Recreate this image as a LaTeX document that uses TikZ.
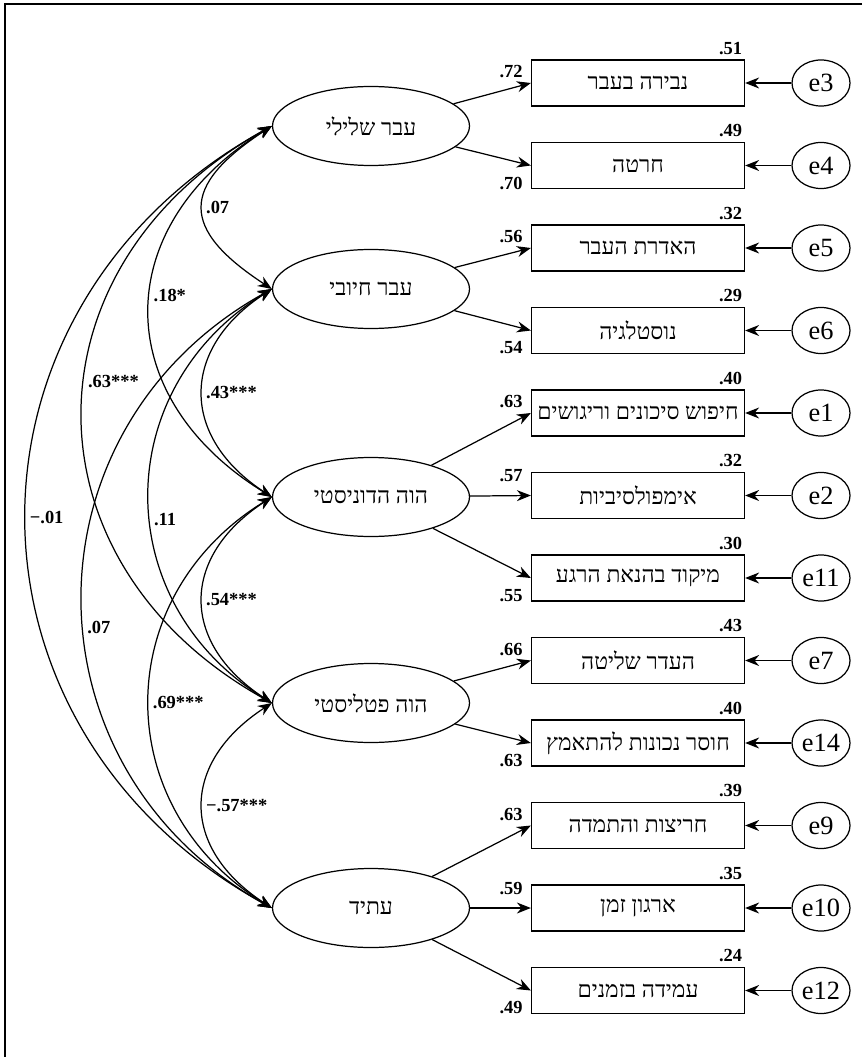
\documentclass[tikz,border=0pt]{standalone}
\usepackage{fontspec}
\setmainfont{Liberation Serif}
\newfontfamily\hebfont[Script=Hebrew]{Liberation Serif}
\TeXXeTstate=1
\usetikzlibrary{arrows.meta,shapes.geometric}
\newcommand{\heb}[1]{{\hebfont\beginR #1\endR}}
\tikzset{
  latent/.style={ellipse, draw, line width=0.7pt, minimum width=3.94cm, minimum height=1.58cm, inner sep=0pt, font=\fontsize{13}{15}\selectfont},
  ind/.style={rectangle, draw, line width=0.7pt, minimum width=4.26cm, minimum height=0.92cm, inner sep=0pt, font=\fontsize{13}{15}\selectfont},
  err/.style={ellipse, draw, line width=0.7pt, minimum width=1.16cm, minimum height=0.92cm, inner sep=0pt, font=\fontsize{15}{16}\selectfont},
  arr/.style={line width=0.7pt, -{Stealth[length=2.8mm,width=2.2mm]}},
  cov/.style={line width=0.7pt, {Stealth[length=2.8mm,width=2.2mm]}-{Stealth[length=2.8mm,width=2.2mm]}},
  num/.style={font=\bfseries\fontsize{10.5}{12}\selectfont, inner sep=1.5pt},
  ldup/.style={num, anchor=south east, xshift=-1mm, yshift=0.3mm},
  ldmid/.style={num, anchor=south east, xshift=-1mm, yshift=2mm},
  lddn/.style={num, anchor=north east, xshift=-1mm, yshift=-1.6mm},
  rsq/.style={num, anchor=south east, yshift=0.4mm},
  covlbl/.style={num, anchor=west}
}
\begin{document}
\begin{tikzpicture}
  \useasboundingbox (0,0) rectangle (17.24,-21.14);
  \draw[line width=1.2pt] (17.24,-0.08) -- (0.1,-0.08) -- (0.1,-21.14);

  % latent factors
  \node[latent] at (7.42,-2.52) (past-neg) {\heb{עבר שלילי}};
  \node[latent] at (7.42,-5.78) (past-pos) {\heb{עבר חיובי}};
  \node[latent] at (7.42,-9.94) (pres-hed) {\heb{הוה הדוניסטי}};
  \node[latent] at (7.42,-14.06) (pres-fat) {\heb{הוה פטליסטי}};
  \node[latent] at (7.42,-18.16) (future) {\heb{עתיד}};

  % indicators
  \node[ind] at (12.76,-1.66) (i3) {\heb{נבירה בעבר}};
  \node[ind] at (12.76,-3.31) (i4) {\heb{חרטה}};
  \node[ind] at (12.76,-4.96) (i5) {\heb{האדרת העבר}};
  \node[ind] at (12.76,-6.61) (i6) {\heb{נוסטלגיה}};
  \node[ind] at (12.76,-8.26) (i1) {\heb{חיפוש סיכונים וריגושים}};
  \node[ind] at (12.76,-9.91) (i2) {\heb{אימפולסיביות}};
  \node[ind] at (12.76,-11.56) (i11) {\heb{מיקוד בהנאת הרגע}};
  \node[ind] at (12.76,-13.21) (i7) {\heb{העדר שליטה}};
  \node[ind] at (12.76,-14.86) (i14) {\heb{חוסר נכונות להתאמץ}};
  \node[ind] at (12.76,-16.51) (i9) {\heb{חריצות והתמדה}};
  \node[ind] at (12.76,-18.16) (i10) {\heb{ארגון זמן}};
  \node[ind] at (12.76,-19.81) (i12) {\heb{עמידה בזמנים}};

  % error terms
  \node[err] at (16.42,-1.66) (e3) {e3};
  \node[err] at (16.42,-3.31) (e4) {e4};
  \node[err] at (16.42,-4.96) (e5) {e5};
  \node[err] at (16.42,-6.61) (e6) {e6};
  \node[err] at (16.42,-8.26) (e1) {e1};
  \node[err] at (16.42,-9.91) (e2) {e2};
  \node[err] at (16.42,-11.56) (e11) {e11};
  \node[err] at (16.42,-13.21) (e7) {e7};
  \node[err] at (16.42,-14.86) (e14) {e14};
  \node[err] at (16.42,-16.51) (e9) {e9};
  \node[err] at (16.42,-18.16) (e10) {e10};
  \node[err] at (16.42,-19.81) (e12) {e12};

  % R squared
  \node[rsq] at (i3.north east) (r3) {.51};
  \node[rsq] at (i4.north east) (r4) {.49};
  \node[rsq] at (i5.north east) (r5) {.32};
  \node[rsq] at (i6.north east) (r6) {.29};
  \node[rsq] at (i1.north east) (r1) {.40};
  \node[rsq] at (i2.north east) (r2) {.32};
  \node[rsq] at (i11.north east) (r11) {.30};
  \node[rsq] at (i7.north east) (r7) {.43};
  \node[rsq] at (i14.north east) (r14) {.40};
  \node[rsq] at (i9.north east) (r9) {.39};
  \node[rsq] at (i10.north east) (r10) {.35};
  \node[rsq] at (i12.north east) (r12) {.24};

  % loadings
  \draw[arr] (past-neg) -- (i3.west) node[ldup] (l3) {.72};
  \draw[arr] (past-neg) -- (i4.west) node[lddn] (l4) {.70};
  \draw[arr] (past-pos) -- (i5.west) node[ldup] (l5) {.56};
  \draw[arr] (past-pos) -- (i6.west) node[lddn] (l6) {.54};
  \draw[arr] (pres-hed) -- (i1.west) node[ldup] (l1) {.63};
  \draw[arr] (pres-hed) -- (i2.west) node[ldmid] (l2) {.57};
  \draw[arr] (pres-hed) -- (i11.west) node[lddn] (l11) {.55};
  \draw[arr] (pres-fat) -- (i7.west) node[ldup] (l7) {.66};
  \draw[arr] (pres-fat) -- (i14.west) node[lddn] (l14) {.63};
  \draw[arr] (future) -- (i9.west) node[ldup] (l9) {.63};
  \draw[arr] (future) -- (i10.west) node[ldmid] (l10) {.59};
  \draw[arr] (future) -- (i12.west) node[lddn] (l12) {.49};

  % errors to indicators
  \draw[arr] (e3) -- (i3);
  \draw[arr] (e4) -- (i4);
  \draw[arr] (e5) -- (i5);
  \draw[arr] (e6) -- (i6);
  \draw[arr] (e1) -- (i1);
  \draw[arr] (e2) -- (i2);
  \draw[arr] (e11) -- (i11);
  \draw[arr] (e7) -- (i7);
  \draw[arr] (e14) -- (i14);
  \draw[arr] (e9) -- (i9);
  \draw[arr] (e10) -- (i10);
  \draw[arr] (e12) -- (i12);

  % correlations
  \draw[cov] (past-neg.west) .. controls +(-1.84,-1.2) and +(-1.84,1.2) .. (past-pos.west) node[covlbl,pos=0.5] (c12) {.07};
  \draw[cov] (past-neg.west) .. controls +(-3.26,-2.0) and +(-3.26,2.0) .. (pres-hed.west) node[covlbl,pos=0.46] (c13) {.18*};
  \draw[cov] (past-neg.west) .. controls +(-5.04,-2.8) and +(-5.04,2.8) .. (pres-fat.west) node[covlbl,pos=0.45] (c14) {.63***};
  \draw[cov] (past-neg.west) .. controls +(-6.54,-3.6) and +(-6.54,3.6) .. (future.west) node[covlbl,pos=0.5] (c15) {−.01};
  \draw[cov] (past-pos.west) .. controls +(-1.84,-1.2) and +(-1.84,1.2) .. (pres-hed.west) node[covlbl,pos=0.5] (c23) {.43***};
  \draw[cov] (past-pos.west) .. controls +(-3.26,-2.0) and +(-3.26,2.0) .. (pres-fat.west) node[covlbl,pos=0.55] (c24) {.11};
  \draw[cov] (past-pos.west) .. controls +(-5.04,-2.8) and +(-5.04,2.8) .. (future.west) node[covlbl,pos=0.54] (c25) {.07};
  \draw[cov] (pres-hed.west) .. controls +(-1.84,-1.2) and +(-1.84,1.2) .. (pres-fat.west) node[covlbl,pos=0.5] (c34) {.54***};
  \draw[cov] (pres-hed.west) .. controls +(-3.26,-2.0) and +(-3.26,2.0) .. (future.west) node[covlbl,pos=0.5] (c35) {.69***};
  \draw[cov] (pres-fat.west) .. controls +(-1.84,-1.2) and +(-1.84,1.2) .. (future.west) node[covlbl,pos=0.5] (c45) {−.57***};
\end{tikzpicture}
\end{document}
